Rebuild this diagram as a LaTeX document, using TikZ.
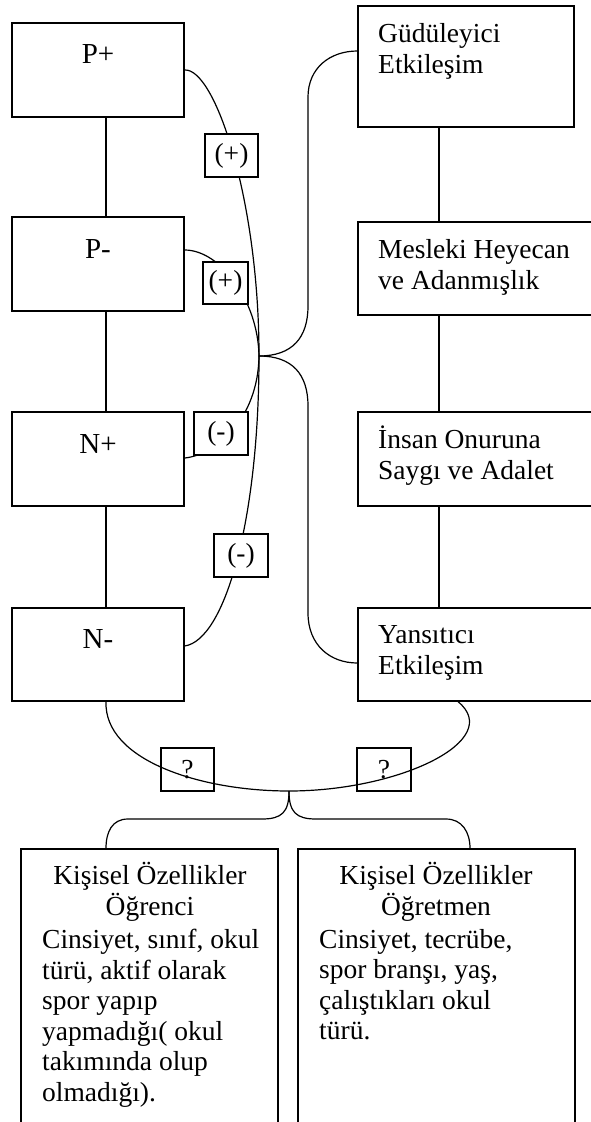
\documentclass[tikz,border=0pt]{standalone}
\usepackage{fontspec}
\setmainfont{Liberation Serif}
\newcommand\dfont{\fontsize{27.5}{30.5}\selectfont}
\newcommand\lfont{\fontsize{29}{32}\selectfont}
\begin{document}
\begin{tikzpicture}[x=1pt,y=-1pt,
  box/.style={draw, line width=1.3pt, inner sep=0pt, rectangle},
  tag/.style={draw, line width=1.3pt, inner sep=0pt, fill=white, font=\dfont},
  qtag/.style={draw, line width=1.3pt, inner sep=0pt, font=\dfont},
  link/.style={line width=1.2pt},
  txt/.style={inner sep=0pt, font=\dfont},
  lbl/.style={inner sep=0pt, font=\lfont, anchor=base}]
\useasboundingbox (0,0) rectangle (590,1122);
% left column
\node[box, minimum width=172, minimum height=94] (pp) at (98,70) {};
\node[box, minimum width=172, minimum height=94] (pm) at (98,264) {};
\node[box, minimum width=172, minimum height=94] (np) at (98,459) {};
\node[box, minimum width=172, minimum height=93] (nm) at (98,654.5) {};
% right column
\node[box, minimum width=216, minimum height=121] (gud) at (466,66.5) {};
\node[box, minimum width=240, minimum height=93] (mes) at (478,268.5) {};
\node[box, minimum width=240, minimum height=94] (ins) at (478,459) {};
\node[box, minimum width=240, minimum height=93] (yan) at (478,654.5) {};
% bottom boxes
\node[box, minimum width=257, minimum height=291] (bl) at (149.5,994.5) {};
\node[box, minimum width=277, minimum height=291] (br) at (436.5,994.5) {};
% texts (base anchor of a multi-line node = baseline of its last line)
\node[lbl] at (98,63) {P+};
\node[lbl] at (98,258) {P-};
\node[lbl] at (98,453) {N+};
\node[lbl] at (98,648) {N-};
\node[txt, anchor=base west, align=left] at (378,73) {Güdüleyici\\Etkileşim};
\node[txt, anchor=base west, align=left] at (378,289) {Mesleki Heyecan\\ve Adanmışlık};
\node[txt, anchor=base west, align=left] at (378,479) {İnsan Onuruna\\Saygı ve Adalet};
\node[txt, anchor=base west, align=left] at (378,674) {Yansıtıcı\\Etkileşim};
\node[txt, anchor=base, align=center] at (150,915) {Kişisel Özellikler\\Öğrenci};
\node[txt, anchor=base west, align=left] at (42,1101) {Cinsiyet, sınıf, okul\\türü, aktif olarak\\spor yapıp\\yapmadığı( okul\\takımında olup\\olmadığı).};
\node[txt, anchor=base, align=center] at (436,915) {Kişisel Özellikler\\Öğretmen};
\node[txt, anchor=base west, align=left] at (319,1039.5) {Cinsiyet, tecrübe,\\spor branşı, yaş,\\çalıştıkları okul\\türü.};
% vertical links
\draw[link] ([xshift=8]pp.south) -- ([xshift=8]pm.north);
\draw[link] ([xshift=8]pm.south) -- ([xshift=8]np.north);
\draw[link] ([xshift=8]np.south) -- ([xshift=8]nm.north);
\draw[link] ([xshift=-27]gud.south) -- ([xshift=-39]mes.north);
\draw[link] ([xshift=-39]mes.south) -- ([xshift=-39]ins.north);
\draw[link] ([xshift=-39]ins.south) -- ([xshift=-39]yan.north);
% hub curves
\coordinate (hub) at (259,356);
\draw[link] (pp.east) .. controls (215,68) and (259,200) .. (hub);
\draw[link] ([yshift=14]pm.east) .. controls (220,250) and (258,300) .. (hub);
\draw[link] ([yshift=1]np.east) .. controls (215,455) and (258,420) .. (hub);
\draw[link] ([yshift=8.5]nm.east) .. controls (225,640) and (259,520) .. (hub);
\draw[link] (hub) .. controls (292,356) and (308,338) .. (308,306) -- (308,97) .. controls (308,68) and (330,51) .. ([yshift=15.5]gud.west);
\draw[link] (hub) .. controls (292,356) and (308,374) .. (308,406) -- (308,613) .. controls (308,645) and (330,663) .. ([yshift=-8.5]yan.west);
% bottom
\coordinate (bot) at (289,791);
\draw[link] ([xshift=8]nm.south) .. controls (104,760) and (200,791) .. (bot) .. controls (400,791) and (505,740) .. ([xshift=-20]yan.south);
\draw[link] (bot) .. controls (289,812) and (282,819) .. (262,819) -- (128,819) .. controls (112,819) and (106,832) .. ([xshift=-43.5]bl.north);
\draw[link] (bot) .. controls (289,812) and (296,819) .. (316,819) -- (446,819) .. controls (462,819) and (470,832) .. ([xshift=33.5]br.north);
% tags
\node[tag, minimum width=53, minimum height=43] (t1) at (231.5,155.5) {(+)};
\node[tag, minimum width=45, minimum height=42] (t2) at (225.5,283) {(+)};
\node[tag, minimum width=54, minimum height=43] (t3) at (221,433.5) {(-)};
\node[tag, minimum width=54, minimum height=43] (t4) at (241,555.5) {(-)};
\node[qtag, minimum width=53, minimum height=43] (q1) at (187.5,769.5) {?};
\node[qtag, minimum width=54, minimum height=43] (q2) at (384,769.5) {?};
\end{tikzpicture}
\end{document}
